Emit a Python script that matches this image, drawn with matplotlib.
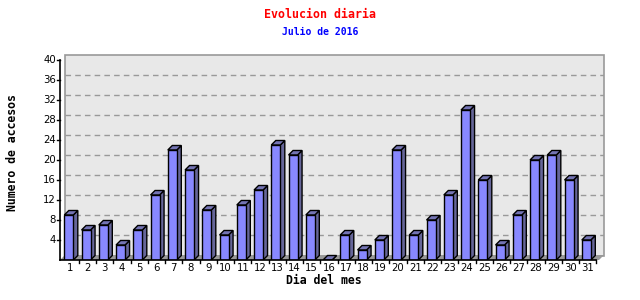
import matplotlib
matplotlib.use("Agg")
import matplotlib.pyplot as plt
from matplotlib.patches import Polygon, Rectangle

days = list(range(1, 32))
accesos = [9, 6, 7, 3, 6, 13, 22, 18, 10, 5, 11, 14, 23, 21, 9, 0, 5, 2, 4, 22,
           5, 8, 13, 30, 16, 3, 9, 20, 21, 16, 4]
yticks = [4, 8, 12, 16, 20, 24, 28, 32, 36, 40]

W, H = 640, 300
fig = plt.figure(figsize=(W / 100, H / 100), dpi=100)

# frame in pixels
left_px, right_px, top_px, bot_px = 60, 604, 55, 260
ax = fig.add_axes([left_px / W, 1 - bot_px / H, (right_px - left_px) / W, (bot_px - top_px) / H])
slot_px = 17.25
c0 = 70.3
x0 = 1 - (c0 - left_px) / slot_px
x1 = 1 + (right_px - c0) / slot_px
ax.set_xlim(x0, x1)
ypx = 5.0
ax.set_ylim(0, (bot_px - top_px) / ypx)
for s in ax.spines.values():
    s.set_visible(False)
ax.set_xticks([])
ax.set_yticks([])
ax.patch.set_alpha(0)

def dxp(p):
    return p / slot_px

def dyp(p):
    return p / ypx

off = 5
ymax = 40
# back wall
wall = Rectangle((x0 + dxp(off), dyp(off) - dyp(1)), x1 - x0 - dxp(off), ax.get_ylim()[1] - dyp(off) + dyp(1),
                 facecolor="#e8e8e8", edgecolor="#999999", lw=1.2, zorder=0, clip_on=False)
ax.add_patch(wall)
# floor
floor = Polygon([(x0, 0), (x0 + dxp(off), dyp(off)), (x1, dyp(off)), (x1 - dxp(off), 0)],
                closed=True, facecolor="#999999", edgecolor="none", zorder=1, clip_on=False)
ax.add_patch(floor)
# gridlines on the wall
for t in yticks[:-1]:
    ax.plot([x0 + dxp(off), x1], [t + dyp(off), t + dyp(off)], color="#999999", lw=1,
            ls=(0, (4, 3)), zorder=1)

# bars
fw = 9 / slot_px
dep_x = dxp(4.5)
dep_y = dyp(4.5)
fl = 6 / slot_px
front = "#8888ff"
side = "#666699"
topc = "#7474b4"
for d, v in zip(days, accesos):
    l = d - fl
    r = l + fw
    ax.add_patch(Polygon([(r, 0), (r + dep_x, dep_y), (r + dep_x, v + dep_y), (r, v)],
                         closed=True, facecolor=side, edgecolor="black", lw=1, zorder=3))
    ax.add_patch(Polygon([(l, v), (l + dep_x, v + dep_y), (r + dep_x, v + dep_y), (r, v)],
                         closed=True, facecolor=topc, edgecolor="black", lw=1, zorder=3))
    ax.bar(l, v, width=fw, align="edge", color=front, edgecolor="black", lw=1, zorder=4)

# axes lines
ax.plot([x0, x0], [0, ymax], color="black", lw=1.2, zorder=5, clip_on=False)
ax.plot([x0, 31.5], [0, 0], color="black", lw=1.2, zorder=5, clip_on=False)
# y ticks
for t in yticks:
    ax.plot([x0 - dxp(3), x0], [t, t], color="black", lw=1, zorder=5, clip_on=False)
    ax.text(x0 - dxp(4), t, str(t), ha="right", va="center", fontsize=7.3,
            family="DejaVu Sans", color="black")
# x ticks
for d in days:
    ax.plot([d + 0.5, d + 0.5], [0, -dyp(3)], color="black", lw=1, zorder=5, clip_on=False)
    ax.text(d, -dyp(3), str(d), ha="center", va="top", fontsize=7.3, family="DejaVu Sans")

fig.text(0.5, 1 - 14 / H, "Evolucion diaria", ha="center", va="center", color="red",
         fontsize=8.4, family="DejaVu Sans Mono", fontweight="bold")
fig.text(0.5, 1 - 32 / H, "Julio de 2016", ha="center", va="center", color="blue",
         fontsize=7, family="DejaVu Sans Mono", fontweight="bold")
fig.text(324 / W, 1 - 281 / H, "Dia del mes", ha="center", va="center", color="black",
         fontsize=8.3, family="DejaVu Sans Mono", fontweight="bold")
fig.text(13 / W, 1 - 153 / H, "Numero de accesos", ha="center", va="center", color="black",
         fontsize=8.3, family="DejaVu Sans Mono", fontweight="bold", rotation=90)

fig.savefig("out.png", dpi=100, facecolor="white")
